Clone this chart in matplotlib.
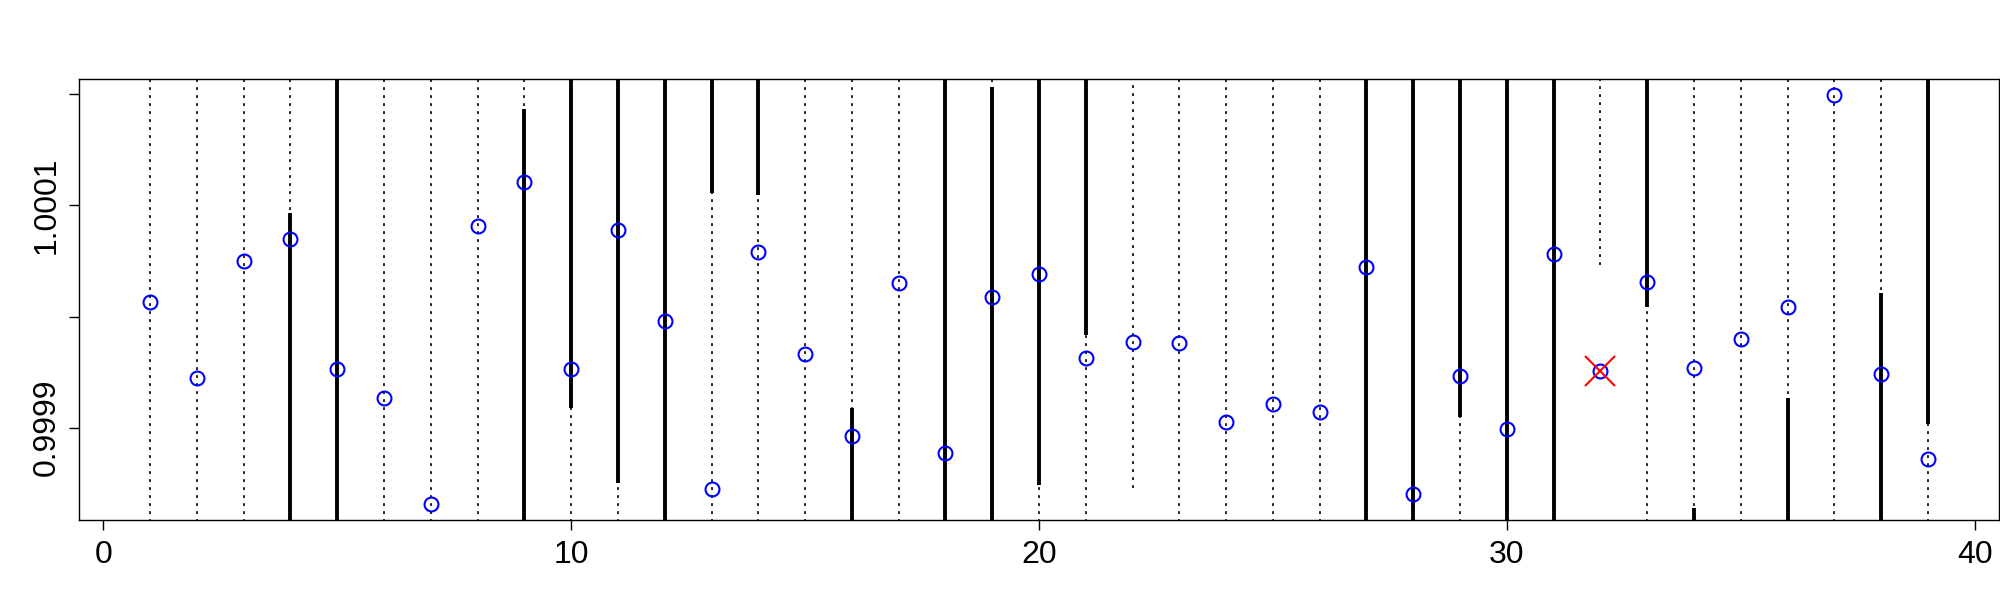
import numpy as np
import matplotlib.pyplot as plt

plt.rcParams['font.family'] = ['Liberation Sans', 'DejaVu Sans']

# values
idx = np.arange(1, 40)
est = [1.0000130, 0.9999445, 1.0000496, 1.0000700, 0.9999529, 0.9999265,
       0.9998310, 1.0000814, 1.0001207, 0.9999526, 1.0000778, 0.9999957,
       0.9998445, 1.0000580, 0.9999661, 0.9998925, 1.0000301, 0.9998775,
       1.0000175, 1.0000382, 0.9999625, 0.9999775, 0.9999760, 0.9999049,
       0.9999211, 0.9999144, 1.0000445, 0.9998400, 0.9999463, 0.9998986,
       1.0000562, 0.9999514, 1.0000310, 0.9999535, 0.9999796, 1.0000086,
       1.0001997, 0.9999484, 0.9998715]

TOP, BOT = 1.00025, 0.99975  # ends that run off the plot

# dotted (wide) intervals
dot_lo = [BOT] * 39
dot_hi = [TOP] * 39
dot_lo[21] = 0.9998454   # index 22
dot_lo[31] = 1.0000466   # index 32

# thick intervals
thick = {
    4: (BOT, 1.0000932), 5: (BOT, TOP), 9: (BOT, 1.0001868),
    10: (0.9999175, TOP), 11: (0.9998504, TOP), 12: (BOT, TOP),
    13: (1.0001112, TOP), 14: (1.0001096, TOP), 16: (BOT, 0.9999175),
    18: (BOT, TOP), 19: (BOT, 1.0002065), 20: (0.9998484, TOP),
    21: (0.9999835, TOP), 27: (BOT, TOP), 28: (BOT, TOP),
    29: (0.9999094, TOP), 30: (BOT, TOP), 31: (BOT, TOP),
    33: (1.0000090, TOP), 34: (BOT, 0.9998274), 36: (BOT, 0.9999265),
    38: (BOT, 1.0000216), 39: (0.9999033, TOP),
}

flagged = 32

fig = plt.figure(figsize=(20, 6), dpi=100)
ax = fig.add_axes([0.0395, 0.1333, 0.96, 0.735])

# dotted intervals
ax.vlines(idx, dot_lo, dot_hi, colors='black', linewidth=1.2,
          linestyles=(0, (1.7, 3.1)), zorder=1)

# thick intervals on top
tx = list(thick.keys())
ax.vlines(tx, [thick[k][0] for k in tx], [thick[k][1] for k in tx],
          colors='black', linewidth=2.8, zorder=2)

ax.plot(idx, est, 'o', mfc='none', mec='blue', ms=10, mew=1.5, zorder=3)
ax.plot(flagged, est[flagged - 1], 'x', color='red', ms=22, mew=1.5, zorder=4)

ax.set_xlim(-0.52, 40.52)
ax.set_ylim(0.9998168, 1.0002138)

ax.set_xticks([0, 10, 20, 30, 40])
ax.set_yticks([0.9999, 1.0000, 1.0001, 1.0002])
ax.set_yticklabels(['0.9999', '', '1.0001', ''])
ax.tick_params(axis='both', labelsize=23, length=7.2, width=1)
ax.tick_params(axis='x', pad=7)
ax.tick_params(axis='y', pad=5)
for lab in ax.get_yticklabels():
    lab.set_rotation(90)
    lab.set_va('center')

for s in ax.spines.values():
    s.set_linewidth(1)

plt.savefig('out.png')
